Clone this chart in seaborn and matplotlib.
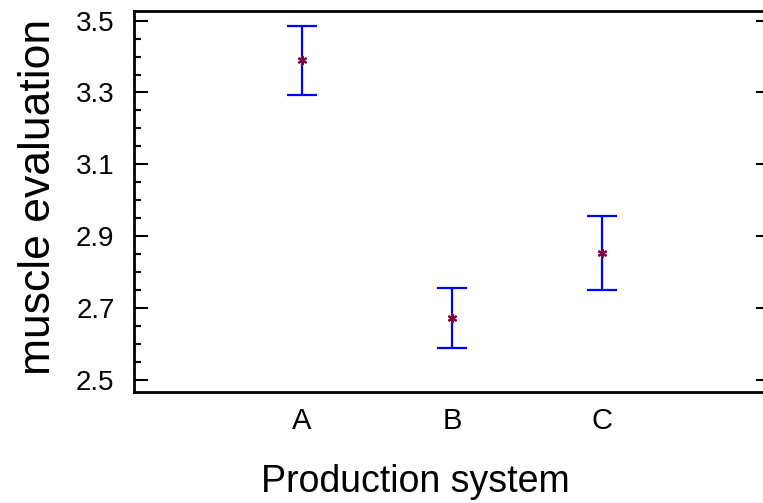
import matplotlib
matplotlib.use("Agg")
import matplotlib.pyplot as plt
import seaborn as sns
import numpy as np
from matplotlib.ticker import MultipleLocator

categories = ["A", "B", "C"]
means = [3.389, 2.673, 2.854]
lows = [3.294, 2.589, 2.751]
highs = [3.486, 2.756, 2.957]
yticks = [2.5, 2.7, 2.9, 3.1, 3.3, 3.5]
ytick_labels = ["2.5", "2.7", "2.9", "3.1", "3.3", "3.5"]

sns.set_theme(style="white")
plt.rcParams["font.family"] = ["Liberation Sans", "DejaVu Sans"]
plt.rcParams["text.color"] = "black"
plt.rcParams["axes.labelcolor"] = "black"
plt.rcParams["xtick.color"] = "black"
plt.rcParams["ytick.color"] = "black"

fig = plt.figure(figsize=(7.63, 5.03), dpi=100)
ax = fig.add_axes([134/763, 1 - 392/503, (770 - 134)/763, (392 - 10.5)/503])

yerr = [np.array(means) - np.array(lows), np.array(highs) - np.array(means)]
ax.errorbar(categories, means, yerr=yerr, fmt="none", ecolor="#0000FF",
            elinewidth=1.6, capsize=11, capthick=1.6, zorder=2)
sns.scatterplot(x=categories, y=means, ax=ax, marker=(6, 2, 0), s=30,
                color="#800040", edgecolor="#800040", linewidth=1.6, zorder=3)

ax.set_xlim(-1.12, 3.12)
ax.set_ylim(2.467, 3.528)
ax.set_yticks(yticks)
ax.set_yticklabels(ytick_labels)
ax.yaxis.set_minor_locator(MultipleLocator(0.05))
ax.tick_params(axis="y", which="major", direction="in", length=10, width=1.5,
               left=True, right=True, labelsize=20, pad=14, color="black",
               labelcolor="black")
ax.tick_params(axis="y", which="minor", direction="in", length=5, width=1.5,
               left=True, right=True, color="black")
ax.tick_params(axis="x", which="both", bottom=False, top=False, labelsize=21,
               pad=5, labelcolor="black")
for s in ax.spines.values():
    s.set_linewidth(2.0)
    s.set_color("black")

ax.set_xlabel("Production system", fontsize=27, color="black")
ax.xaxis.set_label_coords(0.443, -0.19)
ax.set_ylabel("muscle evaluation", fontsize=32, color="black")
ax.yaxis.set_label_coords(-0.118, 0.51)
ax.grid(False)
fig.savefig("out.png", dpi=100)
